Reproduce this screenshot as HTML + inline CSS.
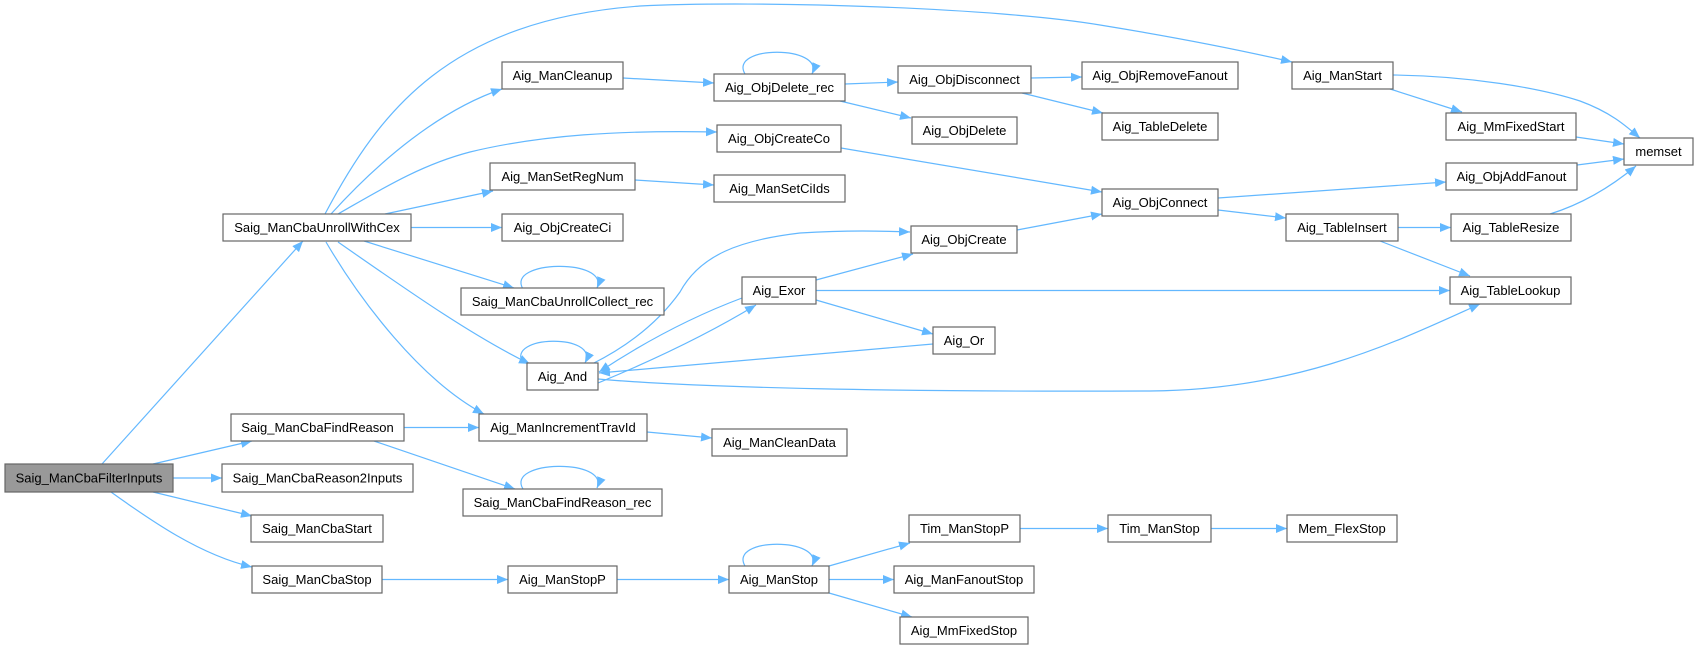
<!DOCTYPE html>
<html><head><meta charset="utf-8"><style>
html,body{margin:0;padding:0;background:#fff;}
svg{display:block;}
text{font-family:"Liberation Sans",Arial,sans-serif;font-size:13px;fill:#000;}
.b{fill:#fff;stroke:#666;stroke-width:1.2;}
.e{fill:none;stroke:#63b8ff;stroke-width:1.2;marker-end:url(#a);}
</style></head><body>
<svg width="1698" height="649" viewBox="0 0 1698 649" xmlns="http://www.w3.org/2000/svg">
<defs><marker id="a" markerWidth="12" markerHeight="10" refX="11" refY="5" orient="auto" markerUnits="userSpaceOnUse"><path d="M0,0.5 L11,5 L0,9.5 z" fill="#63b8ff"/></marker></defs>
<g>
<path class="e" d="M102,464 L303,241"/>
<path class="e" d="M153,464 L252,441"/>
<path class="e" d="M173,478 L222,478"/>
<path class="e" d="M153,492 L252,516"/>
<path class="e" d="M111,492 C150,520 200,555 252,567"/>
<path class="e" d="M325,214 C380,110 450,20 640,6 C760,0 1000,8 1100,25 C1180,38 1240,50 1292,62"/>
<path class="e" d="M331,214 C380,160 440,110 502,89"/>
<path class="e" d="M338,214 C380,190 420,165 470,152 C540,135 620,130 717,132"/>
<path class="e" d="M385,214 L493,191"/>
<path class="e" d="M411,227.5 L502,227.5"/>
<path class="e" d="M364,241 L514,288"/>
<path class="e" d="M338,242 C400,285 470,335 530,364"/>
<path class="e" d="M326,242 C360,300 420,380 484,414"/>
<path class="e" d="M523,289 C505,260 610,258 597,288"/>
<path class="e" d="M523,363 C505,335 600,333 585,363"/>
<path class="e" d="M598,383 Q690,345 756,305"/>
<path class="e" d="M742,298 Q670,325 599,372"/>
<path class="e" d="M592,364 C630,345 660,320 680,292 C700,255 740,240 800,233 C850,230 880,231 910,232"/>
<path class="e" d="M933,344 L599,373"/>
<path class="e" d="M598,379 C700,388 900,392 1150,391 C1300,390 1400,340 1480,304"/>
<path class="e" d="M816,280 L913,254"/>
<path class="e" d="M816,290.5 L1450,290.5"/>
<path class="e" d="M816,300 L933,334"/>
<path class="e" d="M1017,230 L1102,214"/>
<path class="e" d="M841,148 L1102,192"/>
<path class="e" d="M635,180 L714,185"/>
<path class="e" d="M623,78 L714,83"/>
<path class="e" d="M745,74 C728,45 825,45 812,74"/>
<path class="e" d="M845,84 L898,82"/>
<path class="e" d="M840,101 L911,118"/>
<path class="e" d="M1031,78 L1082,77"/>
<path class="e" d="M1022,93 L1103,113"/>
<path class="e" d="M1218,198 L1446,182"/>
<path class="e" d="M1218,210 L1286,218"/>
<path class="e" d="M1393,75 C1470,76 1540,88 1580,101 C1610,112 1625,125 1640,138"/>
<path class="e" d="M1390,89 L1462,112"/>
<path class="e" d="M1576,137 L1624,144"/>
<path class="e" d="M1577,165 L1624,159"/>
<path class="e" d="M1550,214 Q1595,200 1636,166"/>
<path class="e" d="M1398,227.5 L1451,227.5"/>
<path class="e" d="M1380,241 L1470,276"/>
<path class="e" d="M404,427.5 L479,427.5"/>
<path class="e" d="M374,441 L515,489"/>
<path class="e" d="M523,489 C505,460 610,458 597,488"/>
<path class="e" d="M647,432 L712,438"/>
<path class="e" d="M382,579.5 L508,579.5"/>
<path class="e" d="M617,579.5 L729,579.5"/>
<path class="e" d="M745,566 C728,537 825,537 812,566"/>
<path class="e" d="M829,566 L910,543"/>
<path class="e" d="M829,579.5 L894,579.5"/>
<path class="e" d="M829,593 L912,617"/>
<path class="e" d="M1020,528.5 L1108,528.5"/>
<path class="e" d="M1211,528.5 L1287,528.5"/>
</g>
<g>
<rect x="5" y="464" width="168" height="28" style="fill:#999;stroke:#666;stroke-width:1.2"/><text x="89" y="482.5" text-anchor="middle">Saig_ManCbaFilterInputs</text>
<rect class="b" x="223" y="214" width="188" height="27"/><text x="317" y="232" text-anchor="middle">Saig_ManCbaUnrollWithCex</text>
<rect class="b" x="231" y="414" width="173" height="27"/><text x="317.5" y="432" text-anchor="middle">Saig_ManCbaFindReason</text>
<rect class="b" x="222" y="464" width="191" height="28"/><text x="317.5" y="482.5" text-anchor="middle">Saig_ManCbaReason2Inputs</text>
<rect class="b" x="251" y="515" width="132" height="27"/><text x="317" y="533" text-anchor="middle">Saig_ManCbaStart</text>
<rect class="b" x="252" y="566" width="130" height="27"/><text x="317" y="584" text-anchor="middle">Saig_ManCbaStop</text>
<rect class="b" x="502" y="62" width="121" height="27"/><text x="562.5" y="80" text-anchor="middle">Aig_ManCleanup</text>
<rect class="b" x="490" y="163" width="145" height="27"/><text x="562.5" y="181" text-anchor="middle">Aig_ManSetRegNum</text>
<rect class="b" x="502" y="214" width="121" height="27"/><text x="562.5" y="232" text-anchor="middle">Aig_ObjCreateCi</text>
<rect class="b" x="461" y="288" width="203" height="27"/><text x="562.5" y="306" text-anchor="middle">Saig_ManCbaUnrollCollect_rec</text>
<rect class="b" x="527" y="363" width="71" height="27"/><text x="562.5" y="381" text-anchor="middle">Aig_And</text>
<rect class="b" x="479" y="414" width="168" height="27"/><text x="563" y="432" text-anchor="middle">Aig_ManIncrementTravId</text>
<rect class="b" x="463" y="489" width="199" height="27"/><text x="562.5" y="507" text-anchor="middle">Saig_ManCbaFindReason_rec</text>
<rect class="b" x="508" y="566" width="109" height="27"/><text x="562.5" y="584" text-anchor="middle">Aig_ManStopP</text>
<rect class="b" x="714" y="74" width="131" height="27"/><text x="779.5" y="92" text-anchor="middle">Aig_ObjDelete_rec</text>
<rect class="b" x="898" y="66" width="133" height="27"/><text x="964.5" y="84" text-anchor="middle">Aig_ObjDisconnect</text>
<rect class="b" x="1082" y="62" width="156" height="27"/><text x="1160" y="80" text-anchor="middle">Aig_ObjRemoveFanout</text>
<rect class="b" x="912" y="117" width="105" height="27"/><text x="964.5" y="135" text-anchor="middle">Aig_ObjDelete</text>
<rect class="b" x="1102" y="113" width="116" height="27"/><text x="1160" y="131" text-anchor="middle">Aig_TableDelete</text>
<rect class="b" x="717" y="125" width="124" height="27"/><text x="779" y="143" text-anchor="middle">Aig_ObjCreateCo</text>
<rect class="b" x="714" y="175" width="131" height="27"/><text x="779.5" y="193" text-anchor="middle">Aig_ManSetCiIds</text>
<rect class="b" x="1102" y="189" width="116" height="27"/><text x="1160" y="207" text-anchor="middle">Aig_ObjConnect</text>
<rect class="b" x="911" y="226" width="106" height="27"/><text x="964" y="244" text-anchor="middle">Aig_ObjCreate</text>
<rect class="b" x="742" y="277" width="74" height="27"/><text x="779" y="295" text-anchor="middle">Aig_Exor</text>
<rect class="b" x="933" y="327" width="62" height="27"/><text x="964" y="345" text-anchor="middle">Aig_Or</text>
<rect class="b" x="712" y="429" width="135" height="27"/><text x="779.5" y="447" text-anchor="middle">Aig_ManCleanData</text>
<rect class="b" x="909" y="515" width="111" height="27"/><text x="964.5" y="533" text-anchor="middle">Tim_ManStopP</text>
<rect class="b" x="1108" y="515" width="103" height="27"/><text x="1159.5" y="533" text-anchor="middle">Tim_ManStop</text>
<rect class="b" x="729" y="566" width="100" height="27"/><text x="779" y="584" text-anchor="middle">Aig_ManStop</text>
<rect class="b" x="894" y="566" width="140" height="27"/><text x="964" y="584" text-anchor="middle">Aig_ManFanoutStop</text>
<rect class="b" x="900" y="617" width="128" height="27"/><text x="964" y="635" text-anchor="middle">Aig_MmFixedStop</text>
<rect class="b" x="1292" y="62" width="101" height="27"/><text x="1342.5" y="80" text-anchor="middle">Aig_ManStart</text>
<rect class="b" x="1446" y="113" width="130" height="27"/><text x="1511" y="131" text-anchor="middle">Aig_MmFixedStart</text>
<rect class="b" x="1624" y="138" width="69" height="27"/><text x="1658.5" y="156" text-anchor="middle">memset</text>
<rect class="b" x="1446" y="163" width="131" height="27"/><text x="1511.5" y="181" text-anchor="middle">Aig_ObjAddFanout</text>
<rect class="b" x="1286" y="214" width="112" height="27"/><text x="1342" y="232" text-anchor="middle">Aig_TableInsert</text>
<rect class="b" x="1451" y="214" width="120" height="27"/><text x="1511" y="232" text-anchor="middle">Aig_TableResize</text>
<rect class="b" x="1450" y="277" width="121" height="27"/><text x="1510.5" y="295" text-anchor="middle">Aig_TableLookup</text>
<rect class="b" x="1287" y="515" width="110" height="27"/><text x="1342" y="533" text-anchor="middle">Mem_FlexStop</text>
</g>
</svg>
</body></html>
